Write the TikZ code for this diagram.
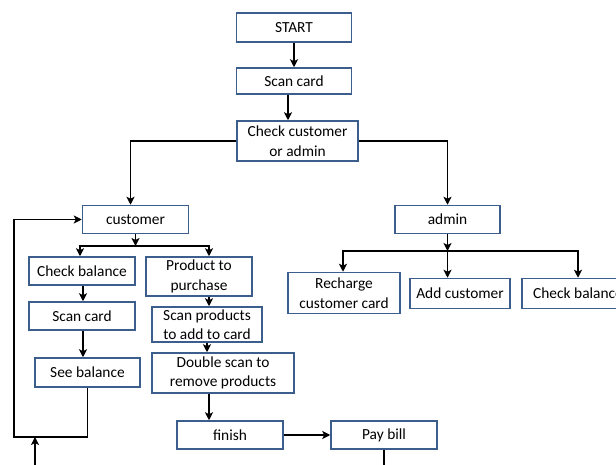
\documentclass[tikz,border=0pt]{standalone}
\usepackage{fontspec}
\setmainfont{Carlito}
\usetikzlibrary{arrows.meta}
\definecolor{boxblue}{HTML}{3B5E8C}
\begin{document}
\begin{tikzpicture}[x=1pt,y=-1pt,>={Stealth[length=8pt,width=8pt,inset=2pt]},
  box/.style={rectangle,draw=boxblue,line width=1.5pt,fill=white,align=center,inner sep=1pt,font=\fontsize{15.4}{19.5}\selectfont},
  flow/.style={->,line width=1.6pt},
  wire/.style={line width=1.6pt}]
\useasboundingbox (0,0) rectangle (616,465);
\node[box,minimum width=115,minimum height=29] (start) at (294,27.5) {START};
\node[box,minimum width=115,minimum height=26] (scan1) at (294,81) {Scan card};
\node[box,minimum width=121,minimum height=40] (check) at (297.5,141) {Check customer\\or admin};
\node[box,minimum width=106,minimum height=28] (cust) at (135.5,219.5) {customer};
\node[box,minimum width=105,minimum height=28] (admin) at (447.5,219.5) {admin};
\node[box,minimum width=106,minimum height=28] (chkbal) at (82,271) {Check balance};
\node[box,minimum width=106,minimum height=39] (prod) at (199,276.5) {Product to\\purchase};
\node[box,minimum width=106,minimum height=28] (scan2) at (82,316) {Scan card};
\node[box,minimum width=105,minimum height=29] (seebal) at (87.5,372.5) {See balance};
\node[box,minimum width=110,minimum height=35] (scanprod) at (207,324.5) {Scan products\\to add to card};
\node[box,minimum width=142,minimum height=40] (dblscan) at (223,373) {Double scan to\\remove products};
\node[box,minimum width=106,minimum height=28] (finish) at (230,435) {finish};
\node[box,minimum width=106,minimum height=28] (paybill) at (384,435) {Pay bill};
\node[box,minimum width=112,minimum height=41] (recharge) at (344,293) {Recharge\\customer card};
\node[box,minimum width=100,minimum height=30] (addcust) at (460,293.5) {Add customer};
\node[box,minimum width=112,minimum height=30] (chkbal2) at (578,293.5) {Check balance};
% split points and loose ends
\coordinate (custsplit) at (135.5,246);
\coordinate (adminsplit) at (447.5,251);
\coordinate (pcol) at (209,0);
\coordinate (loopbl) at (14,437);
\coordinate (inbot) at (35,470);
\coordinate (outbot) at (384,470);
\draw[flow] (start) -- (scan1);
\draw[flow] ([xshift=-6pt]scan1.south) -- ([xshift=-6pt]scan1.south |- check.north);
\draw[flow] (check.west) -| ([xshift=-5pt]cust.north);
\draw[flow] (check.east) -| (admin.north);
\draw[flow] (cust) -- (custsplit);
\draw[flow] (custsplit) -| ([xshift=-2pt]chkbal.north);
\draw[flow] (custsplit) -| (prod.north -| pcol);
\draw[flow] ([xshift=1pt]chkbal.south) -- ([xshift=1pt]chkbal.south |- scan2.north);
\draw[flow] ([xshift=1pt]scan2.south) -- ([xshift=1pt]scan2.south |- seebal.north);
\draw[flow] (prod.south -| pcol) -- (scanprod.north -| pcol);
\draw[flow] ([xshift=-2pt]scanprod.south -| pcol) -- ([xshift=-2pt]dblscan.north -| pcol);
\draw[flow] (dblscan.south -| pcol) -- (finish.north -| pcol);
\draw[flow] (finish) -- (paybill);
\draw[wire] (paybill.south) -- (outbot);
\draw[flow] (seebal.south) |- (loopbl) |- (cust.west);
\draw[flow] (inbot) -- (inbot |- loopbl);
\draw[flow] (admin) -- (adminsplit);
\draw[flow] (adminsplit) -| ([xshift=-1pt]recharge.north);
\draw[flow] (adminsplit) -- (adminsplit |- addcust.north);
\draw[flow] (adminsplit) -| (chkbal2.north);
\end{tikzpicture}
\end{document}
